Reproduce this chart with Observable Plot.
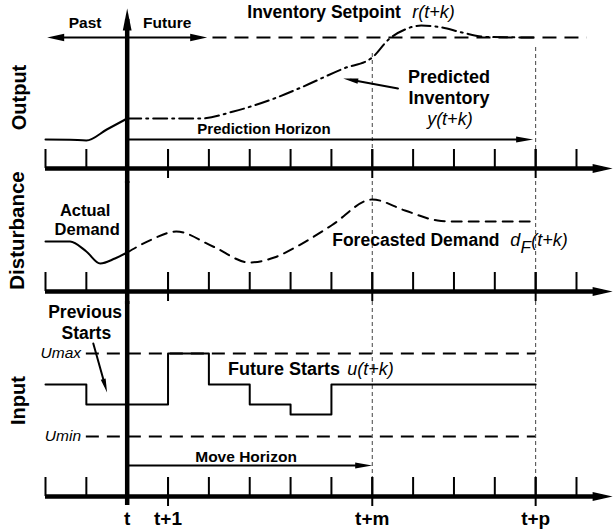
<!DOCTYPE html>
<html>
<head>
<meta charset="utf-8">
<script src="https://cdn.jsdelivr.net/npm/d3@7"></script>
<script src="https://cdn.jsdelivr.net/npm/@observablehq/plot@0.6"></script>
<style>
  body { margin: 0; background: #fff; }
  #chart { width: 613px; }
  #chart svg { display: block; overflow: visible; }
</style>
</head>
<body>
<div id="chart"></div>
<script>
// ---------- data (diagram values; x = time step k relative to t) ----------
const tickSteps = [-2, -1, 1, 2, 3, 4, 5, 6, 7, 8, 9, 10, 11];
const longTickSteps = [1, 6, 10];
const horizonSteps = [6, 10];            // t+m, t+p
const tickLabelSteps = [0, 1, 6, 10];
const tickLabels = ["t", "t+1", "t+m", "t+p"];
const panelTitles = ["Output", "Disturbance", "Input"];

// Output panel
const setpoint = 13.1;
const pastOutputK = [-2, -1.4, -1, -0.5, 0];
const pastOutputV = [2.9, 2.88, 2.8, 3.9, 5.0];
const predK = [0, 1.8, 2.6, 3.6, 4.2, 5.3, 6.0, 6.4, 6.8, 7.2, 7.7, 8.2, 8.8, 10];
const predV = [5.0, 5.0, 5.7, 7.0, 8.0, 10.0, 11.1, 12.9, 13.9, 14.3, 14.1, 13.6, 13.15, 13.1];
const predictionHorizon = 10;

// Disturbance panel
const actualK = [-2, -1.4, -1, -0.66, -0.3, 0];
const actualV = [5.0, 5.0, 4.0, 2.8, 3.3, 3.9];
const forecastK = [0, 0.6, 1.2, 2.1, 3.0, 3.6, 4.2, 5.0, 6.0, 6.8, 7.6, 8.0, 10];
const forecastV = [3.9, 5.2, 6.0, 4.5, 2.9, 3.4, 4.6, 6.6, 9.2, 8.1, 7.1, 7.0, 7.0];

// Input panel
const uMax = 14.3, uMin = 6.0;
const startsK = [-2, -1, 0, 1, 2, 3, 4, 5, 10];
const startsV = [11.2, 9.2, 9.2, 14.3, 11.2, 9.2, 8.2, 11.2, 11.2];
const moveHorizon = 6;

// ---------- helpers ----------
const FONT = "'Liberation Sans', Arial, Helvetica, sans-serif";
function head(angleDeg, w) {
  const a = angleDeg * Math.PI / 180, c = Math.cos(a), s = Math.sin(a);
  const p = [[0, -1], [w, 1], [-w, 1]].map(([x, y]) => [x * c - y * s, x * s + y * c]);
  return {
    draw(ctx, size) {
      const r = Math.sqrt(size / Math.PI);
      ctx.moveTo(p[0][0] * r, p[0][1] * r);
      ctx.lineTo(p[1][0] * r, p[1][1] * r);
      ctx.lineTo(p[2][0] * r, p[2][1] * r);
      ctx.closePath();
    }
  };
}
const headRight = head(90, 0.45), headLeft = head(-90, 0.45), headUp = head(0, 0.4);
const thinRight = head(90, 0.36);
const pts = (ks, vs) => ks.map((k, i) => ({k, v: vs[i]}));
const dotted = {stroke: "#444", strokeWidth: 1, strokeDasharray: "4,3"};
const xOpt = {domain: [-2, 11], range: [45, 576], axis: null};

function frameMarks(top, bottom, tickH, below) {
  return [
    Plot.ruleX(tickSteps, {y1: 0, y2: tickH, strokeWidth: 2}),
    Plot.ruleX(longTickSteps, {y1: below, y2: tickH, strokeWidth: 2}),
    Plot.ruleY([0], {x1: -2, x2: 11.64, strokeWidth: 4.5}),
    Plot.dot([{k: 11.64, v: 0}], {x: "k", y: "v", r: 10, symbol: headRight, fill: "black", stroke: "none"}),
    Plot.ruleX([0], {y1: top, y2: bottom, strokeWidth: 4.5})
  ];
}
function label(x, y, text, o = {}) {
  return Plot.text([{x, y, text}], {x: "x", y: "y", text: "text", fontSize: 17, fontWeight: "bold", fontFamily: FONT, fill: "black", ...o});
}
function italic(x, y, text, o = {}) {
  return label(x, y, text, {fontWeight: "normal", fontStyle: "italic", textAnchor: "start", fontSize: 18, ...o});
}

const common = {width: 613, margin: 0, style: {fontFamily: FONT, background: "white", overflow: "visible"}};

// ---------- Output panel ----------
const plotA = Plot.plot({
  ...common, height: 182,
  x: xOpt, y: {domain: [0, 10], range: [168, 68], axis: null},
  marks: [
    Plot.ruleX([horizonSteps[0]], {y1: 11.5, y2: 1.9, ...dotted}),
    Plot.ruleX([horizonSteps[1]], {y1: 12.1, y2: 1.9, ...dotted}),
    Plot.ruleY([setpoint], {x1: 2.1, x2: 11.26, strokeWidth: 2, strokeDasharray: "14,8"}),
    Plot.ruleY([setpoint], {x1: -1.75, x2: 1.75, strokeWidth: 2}),
    Plot.dot([{k: -1.75, v: setpoint}], {x: "k", y: "v", r: 8.5, symbol: headLeft, fill: "black", stroke: "none"}),
    Plot.dot([{k: 1.75, v: setpoint}], {x: "k", y: "v", r: 8.5, symbol: headRight, fill: "black", stroke: "none"}),
    Plot.line(pts(pastOutputK, pastOutputV), {x: "k", y: "v", curve: "monotone-x", strokeWidth: 2}),
    Plot.line(pts(predK, predV), {x: "k", y: "v", curve: "monotone-x", strokeWidth: 2, strokeDasharray: "14,5,2,5"}),
    Plot.ruleY([2.9], {x1: 0, x2: predictionHorizon - 0.27, strokeWidth: 2}),
    Plot.dot([{k: predictionHorizon - 0.27, v: 2.9}], {x: "k", y: "v", r: 8.5, symbol: thinRight, fill: "black", stroke: "none"}),
    Plot.line([{k: 6.63, v: 8.0}, {k: 5.47, v: 8.87}], {x: "k", y: "v", strokeWidth: 2}),
    Plot.dot([{k: 5.47, v: 8.87}], {x: "k", y: "v", r: 7.5, symbol: head(-80, 0.36), fill: "black", stroke: "none"}),
    ...frameMarks(14.9, -1.5, 1.9, -1.0),
    Plot.dot([{k: 0, v: 14.9}], {x: "k", y: "v", r: 11, symbol: headUp, fill: "black", stroke: "none"}),
    label(-1.03, 14.5, "Past", {fontSize: 15.5}),
    label(0.98, 14.5, "Future", {fontSize: 15.5}),
    label(2.94, 15.6, "Inventory Setpoint", {textAnchor: "start", fontSize: 17.5}),
    italic(6.98, 15.6, "r(t+k)"),
    label(3.35, 3.9, "Prediction Horizon", {fontSize: 15}),
    label(7.88, 9.1, "Predicted", {fontSize: 18}),
    label(7.88, 7.0, "Inventory", {fontSize: 18}),
    italic(7.9, 4.9, "y(t+k)", {textAnchor: "middle"}),
    label(-2.64, 7.1, panelTitles[0], {rotate: -90, fontSize: 20})
  ]
});

// ---------- Disturbance panel ----------
const plotB = Plot.plot({
  ...common, height: 121,
  x: xOpt, y: {domain: [0, 10], range: [109, 9], axis: null},
  marks: [
    Plot.ruleX(horizonSteps, {y1: 11, y2: 1.9, ...dotted}),
    Plot.line(pts(actualK, actualV), {x: "k", y: "v", curve: "monotone-x", strokeWidth: 2}),
    Plot.line(pts(forecastK, forecastV), {x: "k", y: "v", curve: "monotone-x", strokeWidth: 2, strokeDasharray: "10,7"}),
    ...frameMarks(11, -1.3, 1.9, -1.0),
    label(-1.03, 8.1, "Actual", {fontSize: 16.5}),
    label(-0.98, 6.2, "Demand", {fontSize: 16.5}),
    label(5.02, 5.1, "Forecasted Demand", {textAnchor: "start", fontSize: 17.5}),
    italic(9.38, 5.1, "d"),
    italic(9.63, 4.35, "F", {fontSize: 17}),
    italic(9.89, 5.1, "(t+k)"),
    label(-2.69, 6.1, panelTitles[1], {rotate: -90, fontSize: 20.5})
  ]
});

// ---------- Input panel ----------
const plotC = Plot.plot({
  ...common, height: 228,
  x: xOpt, y: {domain: [0, 10], range: [193, 93], axis: null},
  marks: [
    Plot.ruleX(horizonSteps, {y1: 19.5, y2: 1.9, ...dotted}),
    Plot.ruleY([uMax, uMin], {x1: -1, x2: 10, strokeWidth: 2, strokeDasharray: "13,8"}),
    Plot.line(pts(startsK, startsV), {x: "k", y: "v", curve: "step-after", strokeWidth: 2}),
    Plot.ruleY([3.1], {x1: 0, x2: moveHorizon - 0.21, strokeWidth: 2}),
    Plot.dot([{k: moveHorizon - 0.21, v: 3.1}], {x: "k", y: "v", r: 8.5, symbol: thinRight, fill: "black", stroke: "none"}),
    Plot.line([{k: -0.83, v: 15.3}, {k: -0.54, v: 11.07}], {x: "k", y: "v", strokeWidth: 2}),
    Plot.dot([{k: -0.54, v: 11.07}], {x: "k", y: "v", r: 7, symbol: head(164, 0.36), fill: "black", stroke: "none"}),
    ...frameMarks(19.5, -0.9, 1.9, -1.0),
    label(-1.03, 18.4, "Previous", {fontSize: 17.5}),
    label(-1.0, 16.3, "Starts", {fontSize: 17.5}),
    italic(-1.13, uMax, "Umax", {textAnchor: "end", fontSize: 15.5}),
    italic(-1.13, uMin, "Umin", {textAnchor: "end", fontSize: 15.5}),
    label(2.47, 12.7, "Future Starts", {textAnchor: "start", fontSize: 18}),
    italic(5.39, 12.7, "u(t+k)"),
    label(2.91, 3.9, "Move Horizon", {fontSize: 15.5}),
    Plot.text(tickLabelSteps, {x: d => d, y: -2.2, text: (d, i) => tickLabels[i], fontSize: 19, fontWeight: "bold", fontFamily: FONT, fill: "black"}),
    label(-2.67, 9.6, panelTitles[2], {rotate: -90, fontSize: 20})
  ]
});

const root = document.getElementById("chart");
root.append(plotA, plotB, plotC);
</script>
</body>
</html>
